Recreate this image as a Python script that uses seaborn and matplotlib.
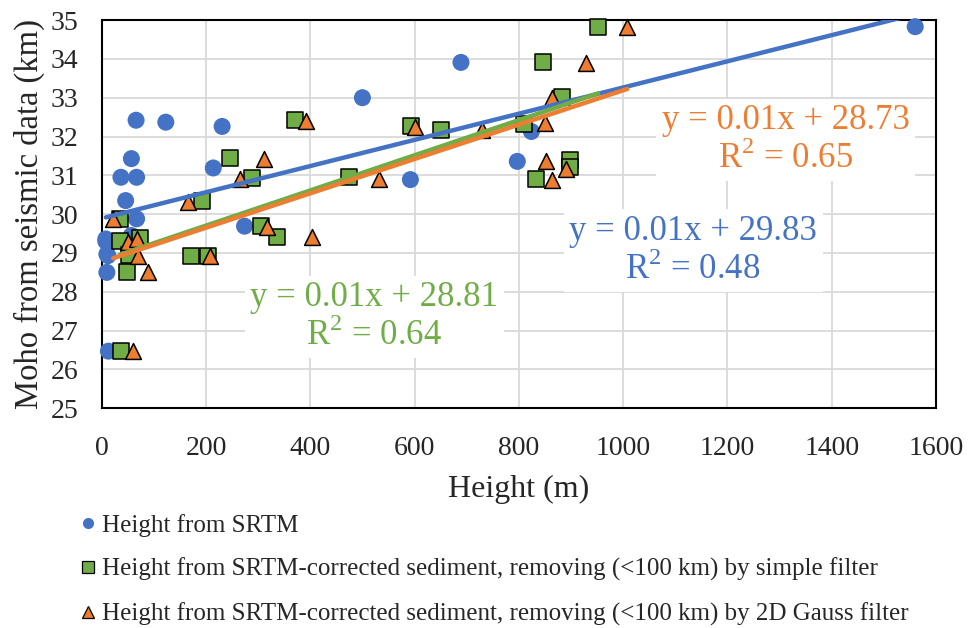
import numpy as np
import pandas as pd
import matplotlib
matplotlib.use("Agg")
import matplotlib.pyplot as plt
import seaborn as sns

# ---- data ----
srtm_x = [8, 8, 10, 10, 12, 13, 37, 46, 57, 57, 66, 67, 67, 123, 214, 231, 274, 500, 592, 689, 797, 824, 1560]
srtm_y = [29.36, 29.30, 28.97, 28.50, 28.93, 26.47, 30.95, 30.35, 31.43, 29.45, 32.42, 30.95, 29.88, 32.37,
          31.19, 32.26, 29.69, 33.00, 30.89, 33.91, 31.36, 32.13, 34.83]

simple_x = [35, 35, 38, 49, 52, 73, 172, 192, 204, 247, 288, 306, 337, 370, 475, 594, 651, 810, 832, 847,
            882, 899, 899, 952]
simple_y = [29.88, 29.30, 26.47, 28.50, 28.95, 29.38, 28.93, 30.33, 28.93, 31.44, 30.94, 29.69, 29.42, 32.42,
            30.95, 32.26, 32.16, 32.33, 30.91, 33.91, 33.02, 31.40, 31.21, 34.83]

gauss_x = [22, 51, 60, 67, 70, 89, 166, 207, 265, 312, 318, 392, 404, 531, 600, 729, 850, 852, 863, 864,
           891, 928, 1008]
gauss_y = [29.88, 29.27, 26.47, 29.36, 28.93, 28.50, 30.32, 28.93, 30.91, 31.43, 29.68, 32.40, 29.40, 30.91,
           32.25, 32.16, 32.35, 31.36, 33.00, 30.87, 31.17, 33.90, 34.81]

series_names = ["Height from SRTM",
                "Height from SRTM-corrected sediment, removing (<100 km) by simple filter",
                "Height from SRTM-corrected sediment, removing (<100 km) by 2D Gauss filter"]
eq_texts = ["y = 0.01x + 29.83\nR$^2$ = 0.48",
            "y = 0.01x + 28.81\nR$^2$ = 0.64",
            "y = 0.01x + 28.73\nR$^2$ = 0.65"]
x_ticks = [0, 200, 400, 600, 800, 1000, 1200, 1400, 1600]
y_ticks = [25, 26, 27, 28, 29, 30, 31, 32, 33, 34, 35]

colors = ["#4472C4", "#70AD47", "#ED7D31"]
markers = ["o", "s", "^"]

sns.set_theme(style="white")
plt.rcParams["font.family"] = ["Liberation Serif", "DejaVu Serif"]
plt.rcParams["mathtext.fontset"] = "custom"
plt.rcParams["mathtext.rm"] = "Liberation Serif"

fig = plt.figure(figsize=(9.70, 6.28), dpi=100)
ax = fig.add_axes([0.1048, 0.350, 0.8602, 0.618])

dfs = [pd.DataFrame({"x": srtm_x, "y": srtm_y}),
       pd.DataFrame({"x": simple_x, "y": simple_y}),
       pd.DataFrame({"x": gauss_x, "y": gauss_y})]

sizes = [150, 120, 130]
for i, df in enumerate(dfs):
    sns.scatterplot(data=df, x="x", y="y", ax=ax, color=colors[i], marker=markers[i], s=sizes[i],
                    edgecolor=("none" if i == 0 else "black"), linewidth=(0 if i == 0 else 1.1),
                    zorder=3 + i, label=series_names[i], legend=False, clip_on=False)

for i, df in enumerate(dfs):
    sns.regplot(data=df, x="x", y="y", ax=ax, scatter=False, ci=None, truncate=True,
                line_kws=dict(color=colors[i], lw=3.2, zorder=7 + i))

ax.set_xlim(0, 1600)
ax.set_ylim(25, 35)
ax.set_xticks(x_ticks)
ax.set_yticks(y_ticks)
ax.set_xticklabels([str(v) for v in x_ticks], fontsize=20)
ax.set_yticklabels([str(v) for v in y_ticks], fontsize=20)
ax.tick_params(axis="x", length=0, pad=20)
ax.tick_params(axis="y", length=0, pad=17)
ax.grid(True, color="#D9D9D9", lw=1.3, zorder=0)
ax.set_axisbelow(True)
for sp in ax.spines.values():
    sp.set_color("black")
    sp.set_linewidth(1.5)
    sp.set_visible(True)

ax.set_xlabel("Height (m)", fontsize=23, labelpad=10)
ax.set_ylabel("Moho from seismic data (km)", fontsize=23.5, labelpad=4)

bbox = dict(facecolor="white", edgecolor="none", pad=4)
ax.text(1134, 29.06, eq_texts[0], color=colors[0], fontsize=25, ha="center", va="center",
        linespacing=1.15, bbox=bbox, zorder=12)
ax.text(523, 27.35, eq_texts[1], color=colors[1], fontsize=25, ha="center", va="center",
        linespacing=1.15, bbox=bbox, zorder=12)
ax.text(1312, 31.91, eq_texts[2], color=colors[2], fontsize=25, ha="center", va="center",
        linespacing=1.15, bbox=bbox, zorder=12)

handles = [plt.Line2D([], [], ls="none", marker=markers[i], color=colors[i],
                      markeredgecolor=("none" if i == 0 else "black"), markeredgewidth=(0 if i == 0 else 0.9),
                      markersize=8) for i in range(3)]
fig.legend(handles, series_names, loc="upper left", bbox_to_anchor=(0.068, 0.198), frameon=False,
           fontsize=18, handletextpad=0.05, handlelength=1.0, labelspacing=0.85, borderaxespad=0)

fig.savefig("out.png", dpi=100)
